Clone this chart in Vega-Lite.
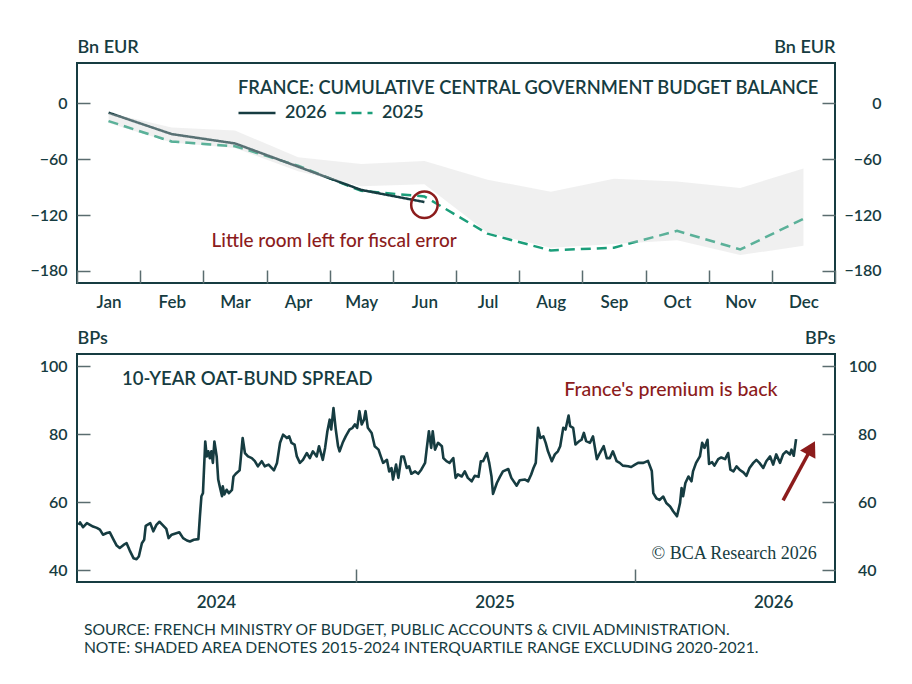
{
  "$schema": "https://vega.github.io/schema/vega-lite/v6.json",
  "background": "white",
  "padding": {"left": 28, "top": 37, "right": 5, "bottom": 5},
  "spacing": 17,
  "datasets": {
    "budget": [
      {"month": "Jan", "series": "2025", "value": -19},
      {"month": "Feb", "series": "2025", "value": -41},
      {"month": "Mar", "series": "2025", "value": -46},
      {"month": "Apr", "series": "2025", "value": -67},
      {"month": "May", "series": "2025", "value": -94},
      {"month": "Jun", "series": "2025", "value": -100},
      {"month": "Jul", "series": "2025", "value": -140},
      {"month": "Aug", "series": "2025", "value": -158},
      {"month": "Sep", "series": "2025", "value": -155},
      {"month": "Oct", "series": "2025", "value": -137},
      {"month": "Nov", "series": "2025", "value": -157},
      {"month": "Dec", "series": "2025", "value": -124},
      {"month": "Jan", "series": "2026", "value": -10},
      {"month": "Feb", "series": "2026", "value": -33},
      {"month": "Mar", "series": "2026", "value": -43},
      {"month": "Apr", "series": "2026", "value": -68},
      {"month": "May", "series": "2026", "value": -93},
      {"month": "Jun", "series": "2026", "value": -106}
    ],
    "band": [
      {"month": "Jan", "hi": -10, "lo": -21},
      {"month": "Feb", "hi": -26, "lo": -42},
      {"month": "Mar", "hi": -29, "lo": -48},
      {"month": "Apr", "hi": -58, "lo": -73},
      {"month": "May", "hi": -65, "lo": -89},
      {"month": "Jun", "hi": -62, "lo": -87},
      {"month": "Jul", "hi": -82, "lo": -139},
      {"month": "Aug", "hi": -95, "lo": -155},
      {"month": "Sep", "hi": -81, "lo": -151},
      {"month": "Oct", "hi": -84, "lo": -147},
      {"month": "Nov", "hi": -91, "lo": -163},
      {"month": "Dec", "hi": -70, "lo": -153}
    ],
    "spread": [
      {"date": "2024-01-03", "value": 53.4}, {"date": "2024-01-05", "value": 54.1},
      {"date": "2024-01-09", "value": 52.7}, {"date": "2024-01-14", "value": 53.9},
      {"date": "2024-01-18", "value": 53.4}, {"date": "2024-01-22", "value": 52.9},
      {"date": "2024-01-27", "value": 52.5}, {"date": "2024-01-31", "value": 52.0},
      {"date": "2024-02-04", "value": 50.5}, {"date": "2024-02-09", "value": 51.0},
      {"date": "2024-02-13", "value": 51.2}, {"date": "2024-02-18", "value": 49.0},
      {"date": "2024-02-22", "value": 47.3}, {"date": "2024-02-26", "value": 46.6},
      {"date": "2024-03-02", "value": 47.5}, {"date": "2024-03-06", "value": 48.0},
      {"date": "2024-03-10", "value": 45.9}, {"date": "2024-03-15", "value": 43.6},
      {"date": "2024-03-19", "value": 43.3}, {"date": "2024-03-22", "value": 44.1},
      {"date": "2024-03-26", "value": 48.0}, {"date": "2024-03-29", "value": 49.0},
      {"date": "2024-03-31", "value": 53.1}, {"date": "2024-04-06", "value": 53.9},
      {"date": "2024-04-10", "value": 51.5}, {"date": "2024-04-14", "value": 53.4},
      {"date": "2024-04-18", "value": 54.3}, {"date": "2024-04-22", "value": 53.4},
      {"date": "2024-04-27", "value": 52.2}, {"date": "2024-04-30", "value": 49.5},
      {"date": "2024-05-04", "value": 50.5}, {"date": "2024-05-08", "value": 50.8},
      {"date": "2024-05-14", "value": 51.2}, {"date": "2024-05-19", "value": 49.5},
      {"date": "2024-05-24", "value": 48.8}, {"date": "2024-05-28", "value": 48.5},
      {"date": "2024-06-02", "value": 49.0}, {"date": "2024-06-08", "value": 49.2},
      {"date": "2024-06-10", "value": 55.9}, {"date": "2024-06-12", "value": 61.8},
      {"date": "2024-06-14", "value": 62.7}, {"date": "2024-06-17", "value": 77.9},
      {"date": "2024-06-19", "value": 73.5}, {"date": "2024-06-21", "value": 75.0},
      {"date": "2024-06-23", "value": 73.0}, {"date": "2024-06-25", "value": 75.0},
      {"date": "2024-06-27", "value": 71.6}, {"date": "2024-06-29", "value": 77.9},
      {"date": "2024-07-02", "value": 73.5}, {"date": "2024-07-04", "value": 66.7},
      {"date": "2024-07-06", "value": 64.7}, {"date": "2024-07-09", "value": 61.8},
      {"date": "2024-07-10", "value": 64.7}, {"date": "2024-07-12", "value": 62.3},
      {"date": "2024-07-15", "value": 63.7}, {"date": "2024-07-18", "value": 62.7},
      {"date": "2024-07-22", "value": 63.7}, {"date": "2024-07-24", "value": 67.6},
      {"date": "2024-07-27", "value": 68.4}, {"date": "2024-08-01", "value": 69.4},
      {"date": "2024-08-02", "value": 71.6}, {"date": "2024-08-05", "value": 78.9},
      {"date": "2024-08-08", "value": 74.5}, {"date": "2024-08-12", "value": 73.5},
      {"date": "2024-08-17", "value": 73.0}, {"date": "2024-08-21", "value": 72.1},
      {"date": "2024-08-25", "value": 70.6}, {"date": "2024-08-30", "value": 72.1},
      {"date": "2024-09-03", "value": 70.6}, {"date": "2024-09-08", "value": 71.1},
      {"date": "2024-09-15", "value": 69.4}, {"date": "2024-09-19", "value": 71.6},
      {"date": "2024-09-23", "value": 77.5}, {"date": "2024-09-27", "value": 79.9},
      {"date": "2024-10-02", "value": 78.9}, {"date": "2024-10-05", "value": 79.4},
      {"date": "2024-10-08", "value": 77.5}, {"date": "2024-10-12", "value": 77.0},
      {"date": "2024-10-15", "value": 73.5}, {"date": "2024-10-19", "value": 71.6},
      {"date": "2024-10-23", "value": 72.5}, {"date": "2024-10-28", "value": 74.5},
      {"date": "2024-11-01", "value": 73.0}, {"date": "2024-11-05", "value": 75.0},
      {"date": "2024-11-10", "value": 73.5}, {"date": "2024-11-13", "value": 76.5},
      {"date": "2024-11-18", "value": 72.5}, {"date": "2024-11-21", "value": 76.0},
      {"date": "2024-11-24", "value": 80.9}, {"date": "2024-11-27", "value": 84.3},
      {"date": "2024-11-29", "value": 81.4}, {"date": "2024-12-02", "value": 87.7},
      {"date": "2024-12-05", "value": 81.4}, {"date": "2024-12-08", "value": 76.5},
      {"date": "2024-12-10", "value": 75.0}, {"date": "2024-12-14", "value": 77.5},
      {"date": "2024-12-18", "value": 79.4}, {"date": "2024-12-23", "value": 81.4},
      {"date": "2024-12-27", "value": 81.9}, {"date": "2024-12-30", "value": 82.9},
      {"date": "2025-01-02", "value": 81.9}, {"date": "2025-01-05", "value": 86.8},
      {"date": "2025-01-08", "value": 82.9}, {"date": "2025-01-11", "value": 84.3},
      {"date": "2025-01-13", "value": 86.8}, {"date": "2025-01-16", "value": 81.9},
      {"date": "2025-01-21", "value": 80.4}, {"date": "2025-01-25", "value": 76.5},
      {"date": "2025-01-30", "value": 75.5}, {"date": "2025-02-02", "value": 73.5},
      {"date": "2025-02-05", "value": 71.6}, {"date": "2025-02-10", "value": 72.5},
      {"date": "2025-02-13", "value": 69.1}, {"date": "2025-02-16", "value": 70.1},
      {"date": "2025-02-18", "value": 66.7}, {"date": "2025-02-22", "value": 71.1},
      {"date": "2025-02-25", "value": 67.2}, {"date": "2025-03-01", "value": 73.5},
      {"date": "2025-03-04", "value": 73.5}, {"date": "2025-03-08", "value": 70.1},
      {"date": "2025-03-11", "value": 70.6}, {"date": "2025-03-14", "value": 68.4},
      {"date": "2025-03-19", "value": 69.1}, {"date": "2025-03-23", "value": 68.4},
      {"date": "2025-03-27", "value": 69.6}, {"date": "2025-04-01", "value": 71.6},
      {"date": "2025-04-03", "value": 75.5}, {"date": "2025-04-06", "value": 80.9},
      {"date": "2025-04-09", "value": 76.0}, {"date": "2025-04-11", "value": 80.9},
      {"date": "2025-04-14", "value": 75.5}, {"date": "2025-04-18", "value": 77.5},
      {"date": "2025-04-23", "value": 76.5}, {"date": "2025-04-25", "value": 73.0},
      {"date": "2025-04-29", "value": 72.1}, {"date": "2025-05-03", "value": 71.6},
      {"date": "2025-05-08", "value": 73.0}, {"date": "2025-05-11", "value": 67.2},
      {"date": "2025-05-14", "value": 68.2}, {"date": "2025-05-19", "value": 67.6},
      {"date": "2025-05-23", "value": 69.1}, {"date": "2025-05-27", "value": 67.2},
      {"date": "2025-06-01", "value": 66.2}, {"date": "2025-06-05", "value": 67.8},
      {"date": "2025-06-10", "value": 67.5}, {"date": "2025-06-13", "value": 72.1},
      {"date": "2025-06-16", "value": 72.1}, {"date": "2025-06-21", "value": 74.5},
      {"date": "2025-06-24", "value": 71.6}, {"date": "2025-06-27", "value": 67.6},
      {"date": "2025-06-29", "value": 62.5}, {"date": "2025-07-04", "value": 65.7},
      {"date": "2025-07-08", "value": 67.5}, {"date": "2025-07-12", "value": 69.1},
      {"date": "2025-07-19", "value": 69.8}, {"date": "2025-07-23", "value": 67.2},
      {"date": "2025-07-30", "value": 64.9}, {"date": "2025-08-03", "value": 66.5},
      {"date": "2025-08-10", "value": 66.7}, {"date": "2025-08-14", "value": 66.2},
      {"date": "2025-08-18", "value": 68.2}, {"date": "2025-08-21", "value": 70.1},
      {"date": "2025-08-24", "value": 71.6}, {"date": "2025-08-27", "value": 81.9},
      {"date": "2025-08-30", "value": 78.9}, {"date": "2025-09-03", "value": 79.4},
      {"date": "2025-09-06", "value": 77.5}, {"date": "2025-09-09", "value": 75.0},
      {"date": "2025-09-14", "value": 72.1}, {"date": "2025-09-18", "value": 74.1},
      {"date": "2025-09-22", "value": 75.0}, {"date": "2025-09-25", "value": 76.5},
      {"date": "2025-09-29", "value": 81.9}, {"date": "2025-10-02", "value": 81.4},
      {"date": "2025-10-06", "value": 85.5}, {"date": "2025-10-08", "value": 82.4},
      {"date": "2025-10-12", "value": 81.9}, {"date": "2025-10-15", "value": 77.0},
      {"date": "2025-10-20", "value": 78.0}, {"date": "2025-10-23", "value": 78.4},
      {"date": "2025-10-26", "value": 80.4}, {"date": "2025-10-29", "value": 78.0},
      {"date": "2025-11-03", "value": 77.5}, {"date": "2025-11-07", "value": 79.4},
      {"date": "2025-11-12", "value": 72.7}, {"date": "2025-11-16", "value": 74.5},
      {"date": "2025-11-21", "value": 76.5}, {"date": "2025-11-25", "value": 73.0},
      {"date": "2025-11-29", "value": 73.0}, {"date": "2025-12-03", "value": 75.0},
      {"date": "2025-12-08", "value": 72.1}, {"date": "2025-12-12", "value": 71.6},
      {"date": "2025-12-16", "value": 70.8}, {"date": "2025-12-23", "value": 70.6},
      {"date": "2025-12-27", "value": 70.4}, {"date": "2026-01-01", "value": 71.1},
      {"date": "2026-01-05", "value": 71.6}, {"date": "2026-01-12", "value": 71.6},
      {"date": "2026-01-18", "value": 72.2}, {"date": "2026-01-23", "value": 69.2},
      {"date": "2026-01-25", "value": 62.7}, {"date": "2026-01-29", "value": 61.2},
      {"date": "2026-02-02", "value": 60.7}, {"date": "2026-02-07", "value": 61.7},
      {"date": "2026-02-11", "value": 59.8}, {"date": "2026-02-16", "value": 58.8},
      {"date": "2026-02-20", "value": 57.4}, {"date": "2026-02-25", "value": 55.9},
      {"date": "2026-03-01", "value": 59.8}, {"date": "2026-03-03", "value": 64.2},
      {"date": "2026-03-05", "value": 61.8}, {"date": "2026-03-08", "value": 65.7},
      {"date": "2026-03-12", "value": 67.6}, {"date": "2026-03-16", "value": 66.2},
      {"date": "2026-03-18", "value": 69.1}, {"date": "2026-03-22", "value": 71.6},
      {"date": "2026-03-27", "value": 73.5}, {"date": "2026-03-30", "value": 77.5},
      {"date": "2026-04-02", "value": 76.0}, {"date": "2026-04-06", "value": 78.4},
      {"date": "2026-04-08", "value": 71.3}, {"date": "2026-04-12", "value": 71.8},
      {"date": "2026-04-15", "value": 70.8}, {"date": "2026-04-20", "value": 72.7},
      {"date": "2026-04-24", "value": 73.2}, {"date": "2026-04-29", "value": 72.7},
      {"date": "2026-05-03", "value": 74.5}, {"date": "2026-05-06", "value": 69.6},
      {"date": "2026-05-10", "value": 69.1}, {"date": "2026-05-14", "value": 70.6},
      {"date": "2026-05-18", "value": 69.6}, {"date": "2026-05-23", "value": 68.8},
      {"date": "2026-05-27", "value": 67.8}, {"date": "2026-05-31", "value": 70.1},
      {"date": "2026-06-05", "value": 71.6}, {"date": "2026-06-09", "value": 72.5},
      {"date": "2026-06-13", "value": 71.6}, {"date": "2026-06-18", "value": 70.1},
      {"date": "2026-06-22", "value": 72.1}, {"date": "2026-06-27", "value": 73.5},
      {"date": "2026-07-01", "value": 71.1}, {"date": "2026-07-05", "value": 74.1},
      {"date": "2026-07-10", "value": 71.6}, {"date": "2026-07-14", "value": 74.1},
      {"date": "2026-07-18", "value": 75.0}, {"date": "2026-07-23", "value": 74.1},
      {"date": "2026-07-25", "value": 75.5}, {"date": "2026-07-28", "value": 73.7},
      {"date": "2026-07-31", "value": 78.6}
    ]
  },
  "vconcat": [
    {
      "width": 758,
      "height": 220,
      "layer": [
        {
          "data": {"name": "budget"},
          "mark": {"type": "line", "strokeWidth": 2.5},
          "encoding": {
            "x": {
              "field": "month", "type": "ordinal",
              "sort": ["Jan", "Feb", "Mar", "Apr", "May", "Jun", "Jul", "Aug", "Sep", "Oct", "Nov", "Dec"],
              "scale": {"type": "band", "paddingInner": 0, "paddingOuter": 0},
              "axis": {"title": null, "tickBand": "extent", "labelAngle": 0, "labelFontSize": 17, "labelPadding": 24}
            },
            "y": {
              "field": "value", "type": "quantitative",
              "scale": {"domain": [-193, 43.4], "nice": false, "zero": false},
              "axis": {"orient": "left", "values": [0, -60, -120, -180], "title": "Bn EUR", "titleAngle": 0, "titleAlign": "left", "titleBaseline": "alphabetic", "titleX": 0, "titleY": -11, "labelPadding": 23}
            },
            "color": {
              "field": "series", "type": "nominal",
              "scale": {"domain": ["2026", "2025"], "range": ["#163c41", "#1b9e7a"]},
              "legend": {"title": null, "orient": "none", "legendX": 160, "legendY": 30, "direction": "horizontal", "symbolType": "stroke", "symbolSize": 1369, "symbolStrokeWidth": 2.5, "labelFontSize": 18, "labelFontWeight": 600, "labelColor": "#163c41", "labelOffset": 8, "columnPadding": 3}
            },
            "strokeDash": {
              "field": "series", "type": "nominal",
              "scale": {"domain": ["2026", "2025"], "range": [[1, 0], [10, 6]]},
              "legend": {"title": null, "orient": "none", "legendX": 160, "legendY": 30, "direction": "horizontal", "symbolType": "stroke", "symbolSize": 1369, "symbolStrokeWidth": 2.5, "labelFontSize": 18, "labelFontWeight": 600, "labelColor": "#163c41", "labelOffset": 8, "columnPadding": 3}
            }
          }
        },
        {
          "data": {"name": "band"},
          "mark": {"type": "area", "color": "#d4d4d4", "opacity": 0.35},
          "encoding": {
            "x": {"field": "month", "type": "ordinal", "sort": ["Jan", "Feb", "Mar", "Apr", "May", "Jun", "Jul", "Aug", "Sep", "Oct", "Nov", "Dec"]},
            "y": {
              "field": "hi", "type": "quantitative",
              "axis": {"orient": "right", "values": [0, -60, -120, -180], "title": "Bn EUR", "titleAngle": 0, "titleAlign": "right", "titleBaseline": "alphabetic", "titleX": 0, "titleY": -11, "labelAlign": "right", "labelPadding": 59}
            },
            "y2": {"field": "lo"}
          }
        },
        {
          "data": {"values": [{"month": "Jun", "value": -109}]},
          "mark": {"type": "point", "shape": "circle", "size": 700, "stroke": "#8c1c1c", "strokeWidth": 2.5, "filled": false, "opacity": 1, "dx": -2},
          "encoding": {
            "x": {"field": "month", "type": "ordinal", "sort": ["Jan", "Feb", "Mar", "Apr", "May", "Jun", "Jul", "Aug", "Sep", "Oct", "Nov", "Dec"]},
            "y": {"field": "value", "type": "quantitative", "axis": null}
          }
        },
        {
          "data": {"values": [{"month": "Apr", "value": -148, "text": "Little room left for fiscal error"}]},
          "mark": {"type": "text", "color": "#8c1c1c", "fontSize": 19, "fontWeight": 500, "align": "center", "baseline": "middle", "dx": 36},
          "encoding": {
            "x": {"field": "month", "type": "ordinal", "sort": ["Jan", "Feb", "Mar", "Apr", "May", "Jun", "Jul", "Aug", "Sep", "Oct", "Nov", "Dec"]},
            "y": {"field": "value", "type": "quantitative", "axis": null},
            "text": {"field": "text"}
          }
        },
        {
          "data": {"values": [{"month": "Dec", "value": 15, "text": "FRANCE: CUMULATIVE CENTRAL GOVERNMENT BUDGET BALANCE"}]},
          "mark": {"type": "text", "color": "#163c41", "fontSize": 18.3, "fontWeight": 600, "align": "right", "baseline": "middle", "dx": 15},
          "encoding": {
            "x": {"field": "month", "type": "ordinal", "sort": ["Jan", "Feb", "Mar", "Apr", "May", "Jun", "Jul", "Aug", "Sep", "Oct", "Nov", "Dec"]},
            "y": {"field": "value", "type": "quantitative", "axis": null},
            "text": {"field": "text"}
          }
        }
      ],
      "resolve": {"axis": {"y": "independent"}}
    },
    {
      "width": 758,
      "height": 228,
      "layer": [
        {
          "data": {"name": "spread"},
          "mark": {"type": "line", "color": "#163c41", "strokeWidth": 2.6, "strokeJoin": "round"},
          "encoding": {
            "x": {
              "field": "date", "type": "temporal",
              "scale": {"type": "utc", "domain": [{"year": 2024, "month": 1, "date": 1, "utc": true}, {"year": 2026, "month": 9, "date": 20, "utc": true}]},
              "axis": {"orient": "bottom", "title": null, "ticks": false, "labelFontSize": 17, "labelPadding": 12, "labelExpr": "utcFormat(datum.value, '%Y')",
                "values": [{"year": 2024, "month": 7, "date": 1, "utc": true}, {"year": 2025, "month": 7, "date": 1, "utc": true}, {"year": 2026, "month": 7, "date": 1, "utc": true}]}
            },
            "y": {
              "field": "value", "type": "quantitative",
              "scale": {"domain": [36.6, 103.6], "nice": false, "zero": false},
              "axis": {"orient": "left", "values": [40, 60, 80, 100], "title": "BPs", "titleAngle": 0, "titleAlign": "left", "titleBaseline": "alphabetic", "titleX": 0, "titleY": -11, "labelPadding": 23}
            }
          }
        },
        {
          "data": {"values": [{"date": "2026-07-14", "value": 60.6}, {"date": "2026-08-16", "value": 74.3}]},
          "mark": {"type": "line", "color": "#8c1c1c", "strokeWidth": 3.5},
          "encoding": {
            "x": {
              "field": "date", "type": "temporal",
              "axis": {"orient": "bottom", "title": null, "labels": false, "tickSize": -13,
                "values": [{"year": 2025, "month": 1, "date": 1, "utc": true}, {"year": 2026, "month": 1, "date": 1, "utc": true}]}
            },
            "y": {
              "field": "value", "type": "quantitative",
              "axis": {"orient": "right", "values": [40, 60, 80, 100], "title": "BPs", "titleAngle": 0, "titleAlign": "right", "titleBaseline": "alphabetic", "titleX": 0, "titleY": -11, "labelAlign": "right", "labelPadding": 54}
            }
          }
        },
        {
          "data": {"values": [{"date": "2026-08-20", "value": 76.0}]},
          "mark": {"type": "point", "shape": "triangle-up", "size": 306, "angle": 28.5, "filled": true, "color": "#8c1c1c", "opacity": 1},
          "encoding": {
            "x": {"field": "date", "type": "temporal", "axis": null},
            "y": {"field": "value", "type": "quantitative", "axis": null}
          }
        },
        {
          "data": {"values": [{"date": "2024-02-29", "value": 96.2, "text": "10-YEAR OAT-BUND SPREAD"}]},
          "mark": {"type": "text", "color": "#163c41", "fontSize": 18.5, "fontWeight": 600, "align": "left", "baseline": "middle"},
          "encoding": {
            "x": {"field": "date", "type": "temporal", "axis": null},
            "y": {"field": "value", "type": "quantitative", "axis": null},
            "text": {"field": "text"}
          }
        },
        {
          "data": {"values": [{"date": "2026-02-17", "value": 92.9, "text": "France's premium is back"}]},
          "mark": {"type": "text", "color": "#8c1c1c", "fontSize": 19.5, "fontWeight": 500, "align": "center", "baseline": "middle"},
          "encoding": {
            "x": {"field": "date", "type": "temporal", "axis": null},
            "y": {"field": "value", "type": "quantitative", "axis": null},
            "text": {"field": "text"}
          }
        },
        {
          "data": {"values": [{"date": "2026-08-27", "value": 44.7, "text": "© BCA Research 2026"}]},
          "mark": {"type": "text", "color": "#163c41", "font": "Liberation Serif", "fontSize": 18, "align": "right", "baseline": "middle"},
          "encoding": {
            "x": {"field": "date", "type": "temporal", "axis": null},
            "y": {"field": "value", "type": "quantitative", "axis": null},
            "text": {"field": "text"}
          }
        }
      ],
      "resolve": {"axis": {"x": "independent", "y": "independent"}}
    }
  ],
  "title": {
    "text": ["SOURCE: FRENCH MINISTRY OF BUDGET, PUBLIC ACCOUNTS & CIVIL ADMINISTRATION.", "NOTE: SHADED AREA DENOTES 2015-2024 INTERQUARTILE RANGE EXCLUDING 2020-2021."],
    "orient": "bottom", "anchor": "start", "fontSize": 15.7, "fontWeight": "normal", "color": "#163c41", "font": "Lato", "lineHeight": 18, "offset": 12, "dx": 55
  },
  "config": {
    "font": "Lato",
    "view": {"stroke": "#163c41", "strokeWidth": 2},
    "axis": {
      "domain": false, "grid": false,
      "labelColor": "#163c41", "labelFont": "Lato", "labelFontSize": 16, "labelFontWeight": 600,
      "tickColor": "#5a6c6f", "tickWidth": 1.5, "tickSize": -13,
      "titleColor": "#163c41", "titleFont": "Lato", "titleFontSize": 18, "titleFontWeight": 600
    }
  }
}
